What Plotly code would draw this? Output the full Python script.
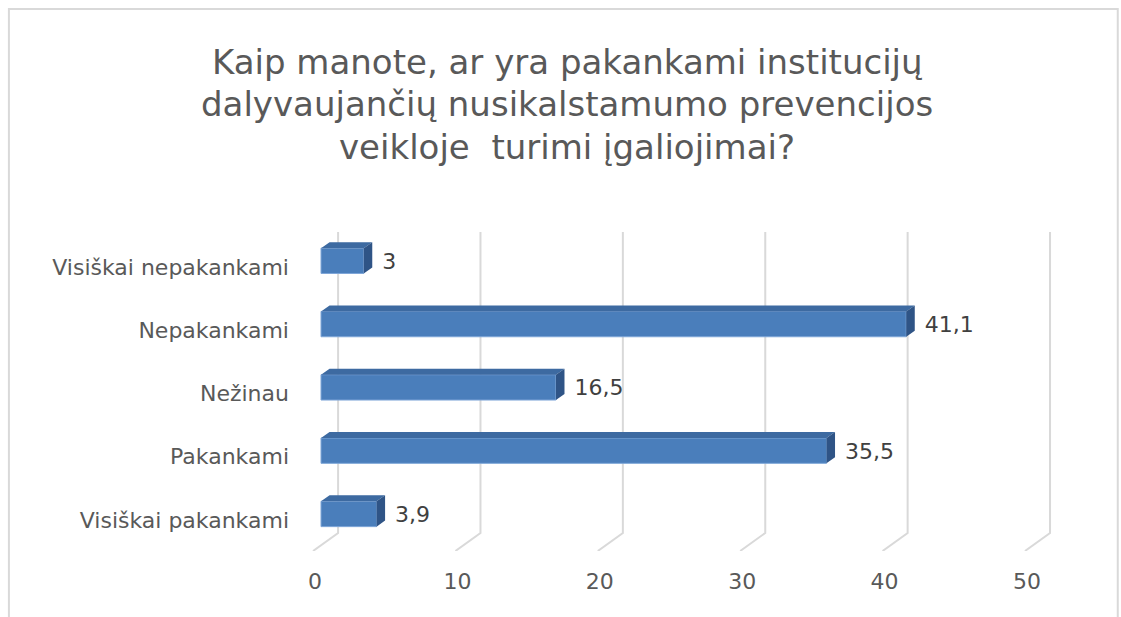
import plotly.graph_objects as go

# ---- data ----
categories = ["Visiškai pakankami", "Pakankami", "Nežinau", "Nepakankami", "Visiškai nepakankami"]
values = [3.9, 35.5, 16.5, 41.1, 3.0]
x_ticks = [0, 10, 20, 30, 40, 50]
title_lines = ["Kaip manote, ar yra pakankami institucijų",
               "dalyvaujančių nusikalstamumo prevencijos",
               "veikloje  turimi įgaliojimai?"]

# ---- styling / geometry (in axis units) ----
FRONT = "#4a7ebb"
TOP = "#3d6aa1"
SIDE = "#2f5486"
GRID = "#d9d9d9"
TXT = "#595959"
FONT = "DejaVu Sans"
BAR_W = 0.40
DX, DY = 0.6, 0.095          # 3D depth offset
GRID_BACK = 1.2              # back-wall gridline shift
FLOOR_BACK, FLOOR_FRONT, FRONT_SHIFT = -0.30, -0.585, -0.56
X_RANGE = [-1.475, 51.9]
Y_RANGE = [-0.585, 4.455]

ypos = list(range(len(categories)))

fig = go.Figure()

# front faces
fig.add_trace(go.Bar(
    x=values, y=ypos, base=0, orientation="h", width=BAR_W,
    marker=dict(color=FRONT, line=dict(color="#7ea6d8", width=1)),
    hoverinfo="skip", showlegend=False))

# top faces & side faces
tx, ty, sx, sy = [], [], [], []
for v, y in zip(values, ypos):
    t = y + BAR_W / 2
    b = y - BAR_W / 2
    tx += [0, v, v + DX, DX, 0, None]
    ty += [t, t, t + DY, t + DY, t, None]
    sx += [v, v + DX, v + DX, v, v, None]
    sy += [t, t + DY, b + DY, b, t, None]
fig.add_trace(go.Scatter(x=tx, y=ty, fill="toself", fillcolor=TOP, mode="lines",
                         line=dict(width=0, color=TOP), hoverinfo="skip", showlegend=False))
fig.add_trace(go.Scatter(x=sx, y=sy, fill="toself", fillcolor=SIDE, mode="lines",
                         line=dict(width=0, color=SIDE), hoverinfo="skip", showlegend=False))

# data labels
fig.add_trace(go.Scatter(
    x=[v + DX + 0.7 for v in values], y=[y - 0.04 for y in ypos], mode="text",
    text=[f"{v:g}".replace(".", ",") for v in values], textposition="middle right",
    textfont=dict(family=FONT, size=22, color="#404040"),
    hoverinfo="skip", showlegend=False))

# 3D gridlines (back wall + floor)
shapes = []
for t in x_ticks:
    xb = t + GRID_BACK
    xf = t + FRONT_SHIFT
    shapes.append(dict(type="path", xref="x", yref="y", layer="below",
                       path=f"M {xb},{Y_RANGE[1]} L {xb},{FLOOR_BACK} L {xf},{FLOOR_FRONT}",
                       line=dict(color=GRID, width=2)))
# chart border
shapes.append(dict(type="rect", xref="paper", yref="paper",
                   x0=-0.383, x1=1.076, y0=-0.25, y1=1.699,
                   line=dict(color=GRID, width=2), layer="below"))

annotations = []
title_y_px = [62, 104, 147]
for line, ypx in zip(title_lines, title_y_px):
    annotations.append(dict(text=line, xref="paper", yref="paper",
                            x=(567 - 300) / 760, y=(551 - ypx) / 319,
                            xanchor="center", yanchor="middle", showarrow=False,
                            font=dict(family=FONT, size=34, color=TXT)))

fig.update_layout(
    width=1121, height=617,
    margin=dict(l=300, r=61, t=232, b=66),
    paper_bgcolor="white", plot_bgcolor="white",
    shapes=shapes, annotations=annotations,
    showlegend=False,
    xaxis=dict(range=X_RANGE, tickvals=x_ticks, ticktext=[str(t) for t in x_ticks],
               showgrid=False, zeroline=False, showline=False, ticks="",
               tickfont=dict(family=FONT, size=22, color=TXT),
               ticklabelshift=-6, ticklabelstandoff=15, fixedrange=True),
    yaxis=dict(range=Y_RANGE, tickvals=ypos, ticktext=categories,
               showgrid=False, zeroline=False, showline=False, ticks="",
               tickfont=dict(family=FONT, size=22, color=TXT),
               ticklabelshift=6, ticklabelstandoff=10, fixedrange=True),
)

fig.write_html("out.html", config={"displayModeBar": False},
               post_script="document.body.style.margin='0';document.body.style.overflow='hidden';")
